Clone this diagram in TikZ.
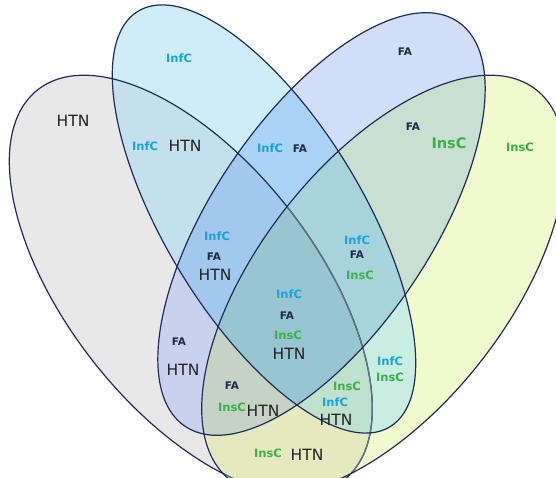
\documentclass[tikz,border=0pt]{standalone}
\usepackage{fontspec}
\setmainfont{DejaVu Sans}
\definecolor{cH}{RGB}{232,232,232}
\definecolor{cI}{RGB}{207,236,251}
\definecolor{cF}{RGB}{210,222,247}
\definecolor{cS}{RGB}{240,250,205}
\definecolor{cHI}{RGB}{196,224,234}
\definecolor{cHF}{RGB}{200,210,237}
\definecolor{cHS}{RGB}{228,234,190}
\definecolor{cIF}{RGB}{170,210,246}
\definecolor{cIS}{RGB}{200,238,225}
\definecolor{cFS}{RGB}{200,224,210}
\definecolor{cHIF}{RGB}{162,200,238}
\definecolor{cHIS}{RGB}{192,226,205}
\definecolor{cHFS}{RGB}{196,211,196}
\definecolor{cIFS}{RGB}{166,212,218}
\definecolor{cHIFS}{RGB}{152,198,208}
\definecolor{edgecol}{RGB}{30,45,90}
\definecolor{edgelight}{RGB}{95,115,130}
\definecolor{infccol}{RGB}{27,161,226}
\definecolor{facol}{RGB}{31,42,68}
\definecolor{insccol}{RGB}{60,175,72}
\definecolor{htncol}{RGB}{34,34,34}
\newcommand{\ClipHtn}{\clip[rotate around={-51.9:(190.8,284.9)}] (190.8,284.9) ellipse [x radius=248, y radius=124];}
\newcommand{\ClipInf}{\clip[rotate around={-58.8:(264,219)}] (264,219) ellipse [x radius=243, y radius=99];}
\newcommand{\ClipFa}{\clip[rotate around={56:(321.5,224)}] (321.5,224) ellipse [x radius=244, y radius=109];}
\newcommand{\ClipIns}{\clip[rotate around={51.9:(383.2,284.9)}] (383.2,284.9) ellipse [x radius=248, y radius=124];}
\newcommand{\PaintAll}[1]{\fill[#1] (0,0) rectangle (556,478);}
\begin{document}
\begin{tikzpicture}[x=1pt,y=-1pt,
  infc/.style={font=\bfseries\fontsize{11.5}{12}\selectfont, inner sep=0pt, text=infccol},
  fa/.style={font=\bfseries\fontsize{10.5}{12}\selectfont, inner sep=0pt, text=facol},
  insc/.style={font=\bfseries\fontsize{11.5}{12}\selectfont, inner sep=0pt, text=insccol},
  bigi/.style={font=\bfseries\fontsize{14.5}{15}\selectfont, inner sep=0pt, text=insccol},
  htn/.style={font=\fontsize{15.5}{16}\selectfont, inner sep=0pt, text=htncol},
  ell/.style={draw=edgecol, line width=1.2pt}]
\useasboundingbox (0,0) rectangle (556,478);
\begin{scope}
\clip (0,0) rectangle (556,478);
% single sets
\begin{scope}\ClipHtn\PaintAll{cH}\end{scope}
\begin{scope}\ClipInf\PaintAll{cI}\end{scope}
\begin{scope}\ClipFa\PaintAll{cF}\end{scope}
\begin{scope}\ClipIns\PaintAll{cS}\end{scope}
% pairs
\begin{scope}\ClipHtn\ClipInf\PaintAll{cHI}\end{scope}
\begin{scope}\ClipHtn\ClipFa\PaintAll{cHF}\end{scope}
\begin{scope}\ClipHtn\ClipIns\PaintAll{cHS}\end{scope}
\begin{scope}\ClipInf\ClipFa\PaintAll{cIF}\end{scope}
\begin{scope}\ClipInf\ClipIns\PaintAll{cIS}\end{scope}
\begin{scope}\ClipFa\ClipIns\PaintAll{cFS}\end{scope}
% triples
\begin{scope}\ClipHtn\ClipInf\ClipFa\PaintAll{cHIF}\end{scope}
\begin{scope}\ClipHtn\ClipInf\ClipIns\PaintAll{cHIS}\end{scope}
\begin{scope}\ClipHtn\ClipFa\ClipIns\PaintAll{cHFS}\end{scope}
\begin{scope}\ClipInf\ClipFa\ClipIns\PaintAll{cIFS}\end{scope}
% all four
\begin{scope}\ClipHtn\ClipInf\ClipFa\ClipIns\PaintAll{cHIFS}\end{scope}
% outlines
\draw[ell, rotate around={-51.9:(190.8,284.9)}] (190.8,284.9) ellipse [x radius=248, y radius=124];
\begin{scope}\ClipIns
\draw[ell, draw=edgelight, line width=1.3pt, rotate around={-51.9:(190.8,284.9)}] (190.8,284.9) ellipse [x radius=248, y radius=124];
\end{scope}
\draw[ell, rotate around={-58.8:(264,219)}] (264,219) ellipse [x radius=243, y radius=99];
\draw[ell, rotate around={56:(321.5,224)}] (321.5,224) ellipse [x radius=244, y radius=109];
\draw[ell, rotate around={51.9:(383.2,284.9)}] (383.2,284.9) ellipse [x radius=248, y radius=124];
\end{scope}
% single sets
\node[htn] (h1) at (73,121) {HTN};
\node[infc] (i1) at (179,58) {InfC};
\node[fa] (f1) at (405,52) {FA};
\node[insc] (s1) at (520,147) {InsC};
% HTN-InfC
\node[infc] (i2) at (145,146) {InfC};
\node[htn] (h2) at (185,146) {HTN};
% InfC-FA
\node[infc] (i3) at (270,148) {InfC};
\node[fa] (f3) at (300,149) {FA};
% FA-InsC
\node[fa] (f4) at (413,127) {FA};
\node[bigi] (s4) at (449,143) {InsC};
% HTN-InfC-FA
\node[infc] (i5) at (217,236) {InfC};
\node[fa] (f5) at (214,257) {FA};
\node[htn] (h5) at (215,275) {HTN};
% InfC-FA-InsC
\node[infc] (i6) at (357,240) {InfC};
\node[fa] (f6) at (357,255) {FA};
\node[insc] (s6) at (360,275) {InsC};
% all four
\node[infc] (i7) at (289,294) {InfC};
\node[fa] (f7) at (287,316) {FA};
\node[insc] (s7) at (288,335) {InsC};
\node[htn] (h7) at (289,354) {HTN};
% HTN-FA
\node[fa] (f8) at (179,342) {FA};
\node[htn] (h8) at (183,370) {HTN};
% InfC-InsC
\node[infc] (i9) at (390,361) {InfC};
\node[insc] (s9) at (390,377) {InsC};
% HTN-FA-InsC
\node[fa] (f10) at (232,386) {FA};
\node[insc] (s10) at (232,407) {InsC};
\node[htn] (h10) at (263,411) {HTN};
% HTN-InfC-InsC
\node[insc] (s11) at (347,386) {InsC};
\node[infc] (i11) at (335,402) {InfC};
\node[htn] (h11) at (336,420) {HTN};
% HTN-InsC
\node[insc] (s12) at (268,453) {InsC};
\node[htn] (h12) at (307,455) {HTN};
\end{tikzpicture}
\end{document}
